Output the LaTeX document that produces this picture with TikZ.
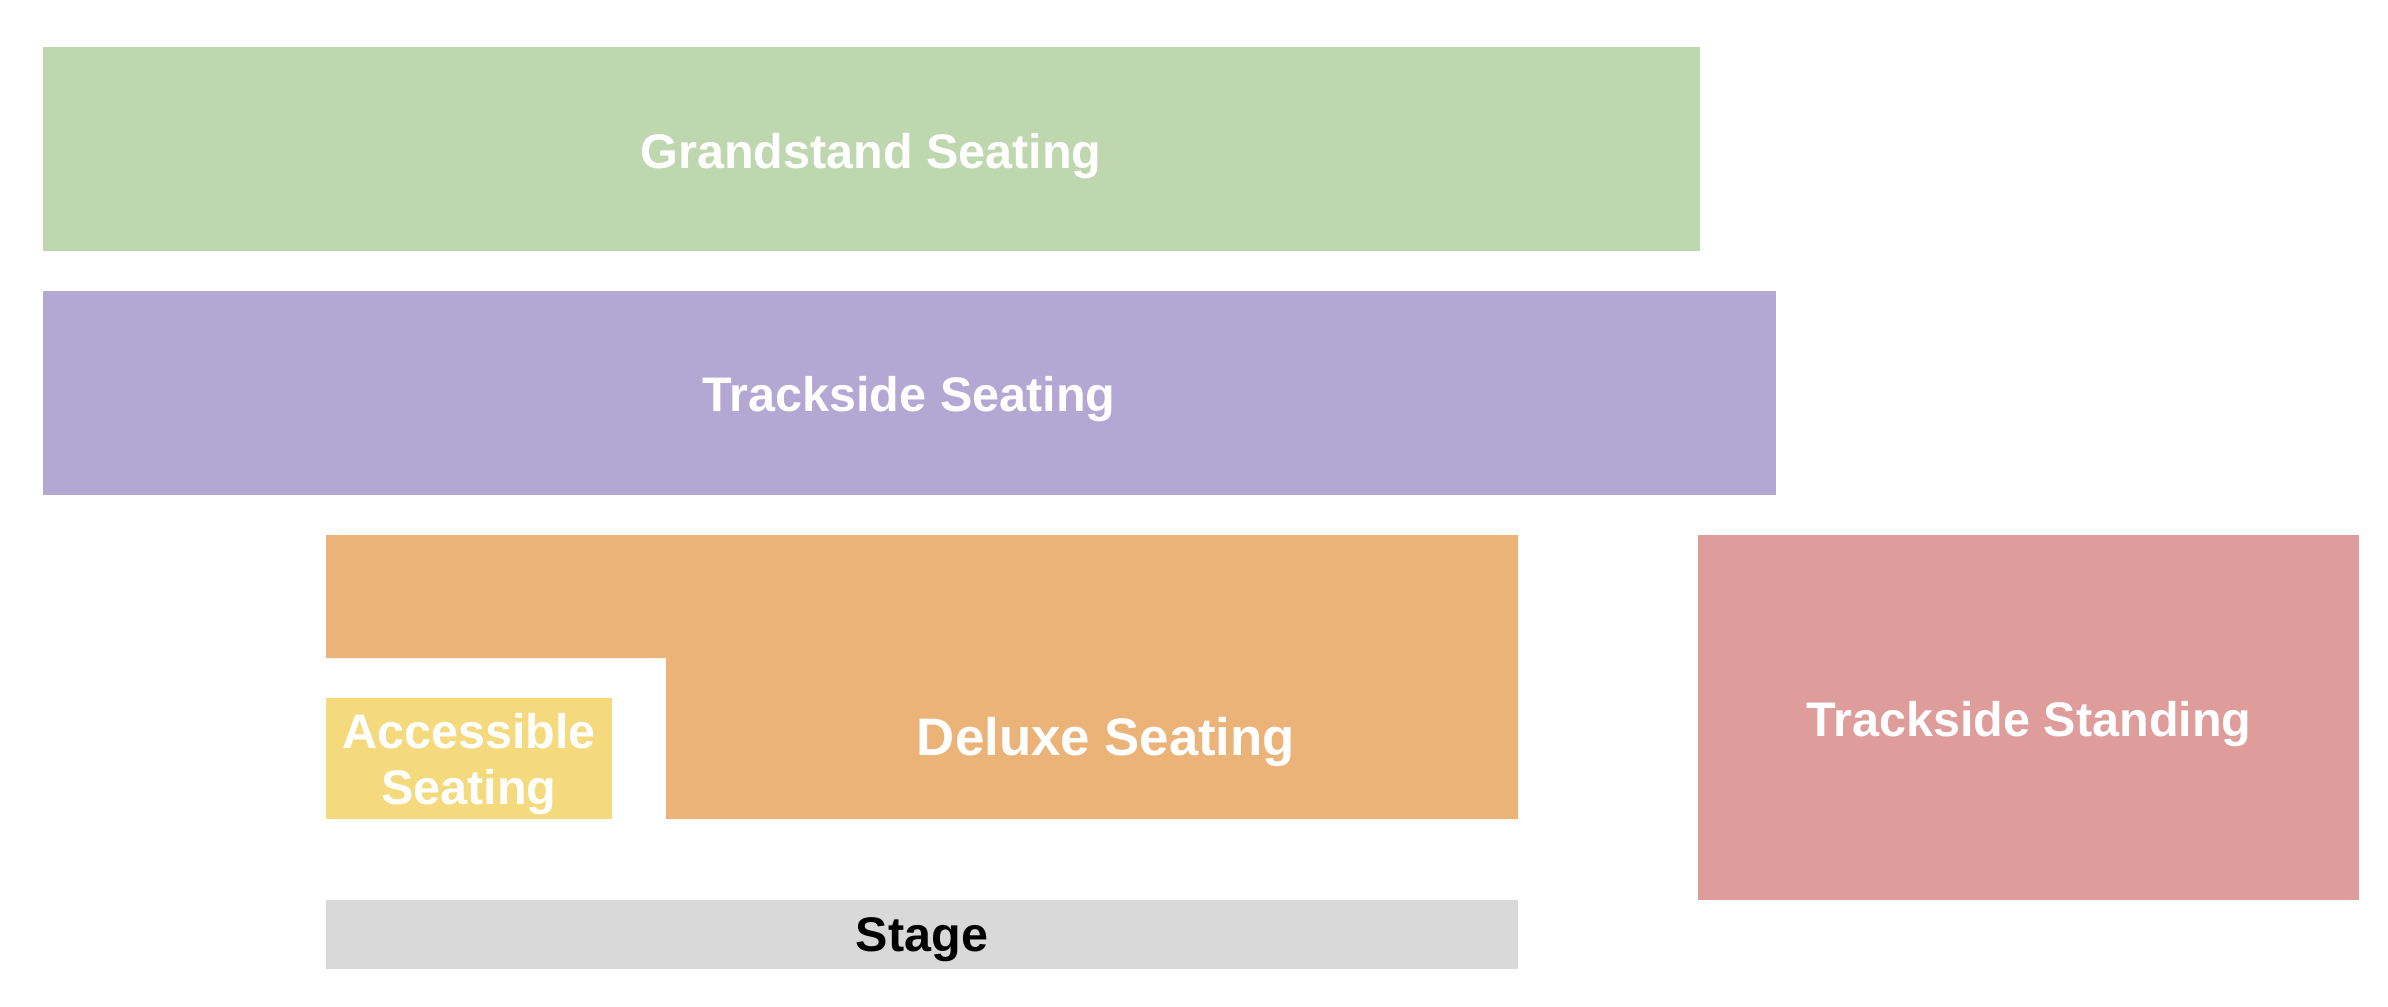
\documentclass[tikz,border=0pt]{standalone}
\usepackage{fontspec}
\setmainfont{Liberation Sans}
\usepackage{xcolor}
\usetikzlibrary{positioning}
\definecolor{grandgreen}{HTML}{BFD7AE}
\definecolor{trackpurple}{HTML}{B3A8D3}
\definecolor{deluxeorange}{HTML}{ECB378}
\definecolor{accessyellow}{HTML}{F4DA7C}
\definecolor{standpink}{HTML}{DE9C9B}
\definecolor{stagegrey}{HTML}{D9D9D9}
\tikzset{zonelabel/.style={text=white,font=\bfseries\fontsize{13.8}{16}\selectfont,align=center,inner sep=0pt}}
\begin{document}
\begin{tikzpicture}[x=0.01cm,y=-0.01cm]
\useasboundingbox (0,0) rectangle (2388,1006);
\fill[grandgreen](43,47) rectangle (1700,251);
\fill[trackpurple](43,291) rectangle (1776,495);
\fill[deluxeorange](326,535)--(1518,535)--(1518,819)--(666,819)--(666,658)--(326,658)--cycle;
\fill[accessyellow](326,698) rectangle (612,819);
\fill[standpink](1698,535) rectangle (2359,900);
\fill[stagegrey](326,900) rectangle (1518,969);
\node[zonelabel] (grand) at (871,156) {Grandstand Seating};
\node[zonelabel] (track) at (909,399) {Trackside Seating};
\node[zonelabel,font=\bfseries\fontsize{15}{18}\selectfont] (deluxe) at (1106,742) {Deluxe Seating};
\node[zonelabel] (access) at (469,764) {Accessible\\Seating};
\node[zonelabel] (stand) at (2029,724) {Trackside Standing};
\node[zonelabel,text=black] (stage) at (922,940) {Stage};
\end{tikzpicture}
\end{document}
